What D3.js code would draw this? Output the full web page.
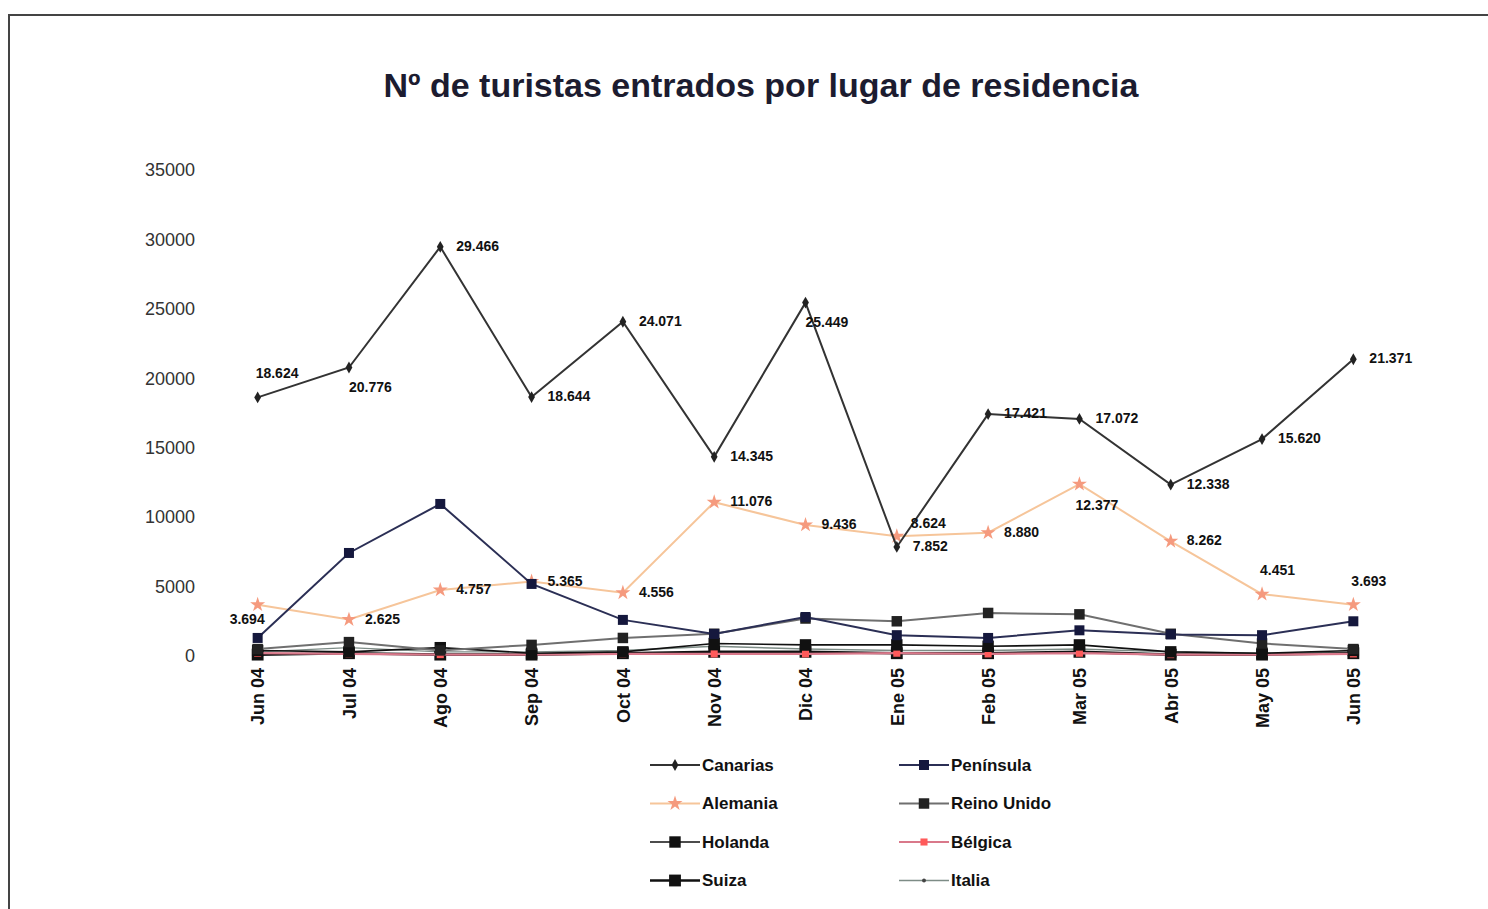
<!DOCTYPE html>
<html lang="es">
<head>
  <meta charset="UTF-8" />
  <title>Turistas por lugar de residencia</title>
  <script src="https://d3js.org/d3.v7.min.js"></script>
  <style>
    body { margin: 0; background: #fff; font-family: "Liberation Sans", Arial, sans-serif; }
    svg { display: block; }
    .axis text { fill: #222; }
    .axis path, .axis line { display: none; }
    .yaxis text { font-size: 18px; fill: #333; }
    .xaxis text { font-size: 18px; font-weight: bold; fill: #111; }
    .dlabel { font-size: 14px; font-weight: bold; fill: #111; }
    .legend text { font-size: 17px; font-weight: bold; fill: #111; }
  </style>
</head>
<body>
<svg id="chart" width="1488" height="909"></svg>
<script>
  // months (category axis)
  const months = ["Jun 04", "Jul 04", "Ago 04", "Sep 04", "Oct 04", "Nov 04", "Dic 04",
                  "Ene 05", "Feb 05", "Mar 05", "Abr 05", "May 05", "Jun 05"];

  // series values
  const canarias   = [18624, 20776, 29466, 18644, 24071, 14345, 25449, 7852, 17421, 17072, 12338, 15620, 21371];
  const peninsula  = [1300, 7420, 10950, 5190, 2600, 1590, 2810, 1500, 1300, 1850, 1550, 1500, 2500];
  const alemania   = [3694, 2625, 4757, 5365, 4556, 11076, 9436, 8624, 8880, 12377, 8262, 4451, 3693];
  const reinoUnido = [500, 1000, 400, 800, 1300, 1600, 2700, 2500, 3100, 3000, 1600, 900, 500];
  const holanda    = [400, 300, 600, 200, 300, 900, 800, 800, 700, 800, 300, 200, 400];
  const belgica    = [200, 150, 100, 100, 150, 150, 150, 200, 150, 200, 100, 100, 150];
  const suiza      = [100, 200, 100, 100, 200, 300, 300, 200, 200, 300, 100, 100, 200];
  const italia     = [300, 600, 300, 300, 400, 700, 500, 400, 400, 500, 300, 200, 300];

  const yTicks = [0, 5000, 10000, 15000, 20000, 25000, 30000, 35000];

  // where each data label sits relative to its point
  const canariasLabelPos = ["a", "br", "r", "r", "r", "r", "br", "r", "r", "r", "r", "r", "r"];
  const alemaniaLabelPos = ["bl", "r", "r", "r", "r", "r", "r", "rt", "r", "b", "r", "a", "a"];

  const series = [
    { name: "Canarias",    values: canarias,   line: "#333",    mark: "#222",    sym: d3.symbolDiamond, size: 40,  width: 2,   labels: canariasLabelPos },
    { name: "Península",   values: peninsula,  line: "#2b2f55", mark: "#15183d", sym: d3.symbolSquare,  size: 100, width: 2 },
    { name: "Alemania",    values: alemania,   line: "#f6c59a", mark: "#f59a7e", sym: d3.symbolStar,    size: 70,  width: 2,   labels: alemaniaLabelPos },
    { name: "Reino Unido", values: reinoUnido, line: "#6f6f6f", mark: "#222",    sym: d3.symbolSquare,  size: 110, width: 2 },
    { name: "Holanda",     values: holanda,    line: "#111",    mark: "#111",    sym: d3.symbolSquare,  size: 130, width: 1.6 },
    { name: "Bélgica",     values: belgica,    line: "#d9788a", mark: "#ff5a5a", sym: d3.symbolSquare,  size: 50,  width: 2.2 },
    { name: "Suiza",       values: suiza,      line: "#111",    mark: "#111",    sym: d3.symbolSquare,  size: 140, width: 2.6 },
    { name: "Italia",      values: italia,     line: "#7d8c86", mark: "#444",    sym: d3.symbolCircle,  size: 12,  width: 1.4 }
  ];

  const svg = d3.select("#chart");

  svg.append("rect").attr("width", 1488).attr("height", 909).attr("fill", "#fff");
  // chart frame
  svg.append("rect")
    .attr("x", 9).attr("y", 15).attr("width", 1490).attr("height", 910)
    .attr("fill", "none").attr("stroke", "#444").attr("stroke-width", 2);

  svg.append("text")
    .attr("x", 761).attr("y", 97)
    .attr("text-anchor", "middle")
    .attr("font-size", 34).attr("font-weight", "bold").attr("fill", "#1c1c30")
    .text("Nº de turistas entrados por lugar de residencia");

  const x = d3.scalePoint().domain(months).range([212, 1399]).padding(0.5);
  const y = d3.scaleLinear().domain([0, 35000]).range([656, 170]);

  // axes
  svg.append("g").attr("class", "axis yaxis")
    .attr("transform", "translate(212,0)")
    .call(d3.axisLeft(y).tickValues(yTicks).tickSize(0).tickPadding(17).tickFormat(d3.format("d")));

  const xAxis = svg.append("g").attr("class", "axis xaxis")
    .attr("transform", "translate(0,656)")
    .call(d3.axisBottom(x).tickSize(0));
  xAxis.selectAll("text")
    .attr("text-anchor", "end")
    .attr("transform", "rotate(-90)")
    .attr("x", -12).attr("y", 0).attr("dy", "0.35em");

  const line = d3.line().x((d, i) => x(months[i])).y(d => y(d));

  // draw from the bottom of the legend order upward so Canarias ends on top
  series.slice().reverse().forEach(s => {
    svg.append("path")
      .attr("d", line(s.values))
      .attr("fill", "none")
      .attr("stroke", s.line)
      .attr("stroke-width", s.width);
    svg.append("g").selectAll("path")
      .data(s.values)
      .join("path")
      .attr("transform", (d, i) => `translate(${x(months[i])},${y(d)})`)
      .attr("d", d3.symbol(s.sym, s.size))
      .attr("fill", s.mark);
  });

  // data labels
  const fmt = v => d3.format(",")(v).replace(",", ".");
  const offsets = {
    r:  [16, 4],
    a:  [-2, -19],
    br: [0, 24],
    b:  [-4, 26],
    bl: [-28, 19],
    rt: [14, -8]
  };
  series.filter(s => s.labels).forEach(s => {
    svg.append("g").selectAll("text")
      .data(s.values)
      .join("text")
      .attr("class", "dlabel")
      .attr("x", (d, i) => x(months[i]) + offsets[s.labels[i]][0])
      .attr("y", (d, i) => y(d) + offsets[s.labels[i]][1])
      .text(d => fmt(d));
  });

  // legend: two columns
  const legend = svg.append("g").attr("class", "legend");
  series.forEach((s, i) => {
    const col = i % 2, row = Math.floor(i / 2);
    const lx = col === 0 ? 650 : 899;
    const ly = 765 + row * 38.5;
    const g = legend.append("g").attr("transform", `translate(${lx},${ly})`);
    g.append("line").attr("x1", 0).attr("x2", 50).attr("y1", 0).attr("y2", 0)
      .attr("stroke", s.line).attr("stroke-width", s.width);
    g.append("path").attr("transform", "translate(25,0)")
      .attr("d", d3.symbol(s.sym, s.size)).attr("fill", s.mark);
    g.append("text").attr("x", 52).attr("y", 0).attr("dy", "0.35em").text(s.name);
  });
</script>
</body>
</html>
